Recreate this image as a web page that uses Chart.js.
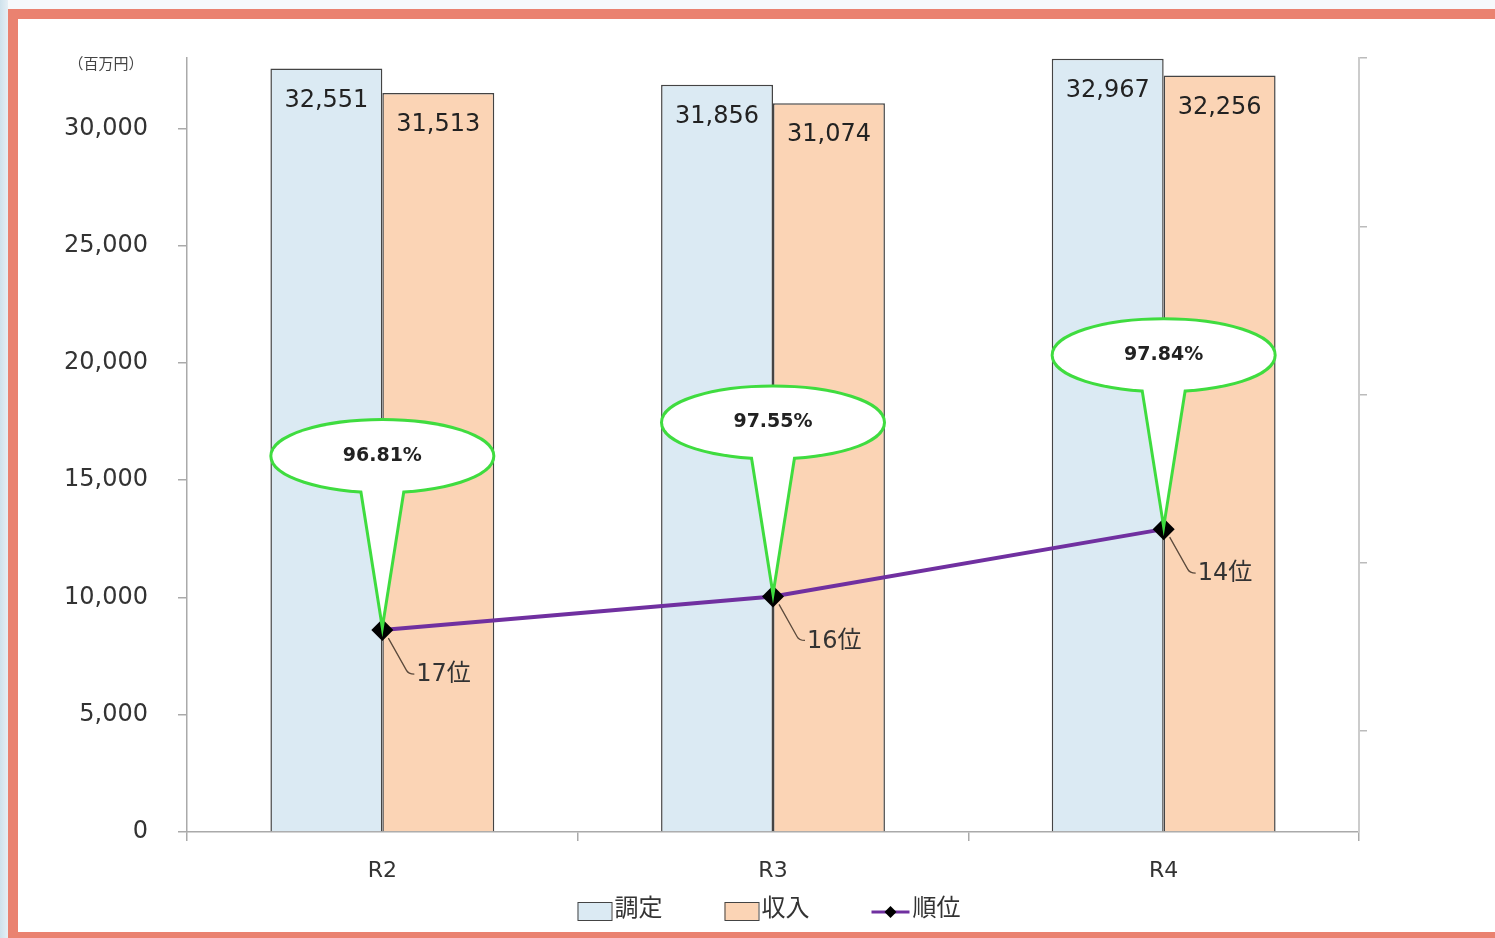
<!DOCTYPE html>
<html lang="ja">
<head>
<meta charset="utf-8">
<title>調定・収入・順位</title>
<script src="https://cdn.jsdelivr.net/npm/chart.js@4/dist/chart.umd.min.js"></script>
<style>
    html, body { margin: 0; padding: 0; }
    body {
        width: 1495px; height: 938px; overflow: hidden; position: relative;
        background: linear-gradient(90deg, #cfe2ec 0px, #e6eff5 8px, #f6f9fb 8px);
    }
    #frame {
        position: absolute; left: 8px; top: 9px; right: -20px; height: 929px;
        box-sizing: border-box; background: #fff;
        border-left: 10px solid #ea8270; border-top: 10px solid #ea8270; border-bottom: 6px solid #ea8270;
    }
    #chart { position: absolute; left: 0; top: 0; }
</style>
</head>
<body>
<div id="frame"></div>
<canvas id="chart" width="1495" height="938"></canvas>
<script>
const categories = ['R2', 'R3', 'R4'];
const assessed = [32551, 31856, 32967];   // 調定
const revenue = [31513, 31074, 32256];    // 収入
const ranks = [17, 16, 14];               // 順位
const rates = ['96.81%', '97.55%', '97.84%'];
const seriesNames = ['調定', '収入', '順位'];
const amountTicks = [0, 5000, 10000, 15000, 20000, 25000, 30000];
const rankTicks = [0, 5, 10, 15, 20];
const unitLabel = '（百万円）';

const FONT = "'DejaVu Sans', 'Noto Sans CJK JP', sans-serif";
const BLUE = '#dbeaf3';
const ORANGE = '#fbd4b5';
const PURPLE = '#7030a0';
const GREEN = '#3fdc3f';

Chart.defaults.font.family = FONT;
Chart.defaults.color = '#333';

// callouts, bar values, rank labels, unit label and legend
const annotations = {
    id: 'annotations',
    afterDatasetsDraw(chart) {
        const ctx = chart.ctx;

        // bar value labels
        ctx.save();
        ctx.font = `24px ${FONT}`;
        ctx.fillStyle = '#222';
        ctx.textAlign = 'center';
        ctx.textBaseline = 'middle';
        [0, 1].forEach(di => {
            const meta = chart.getDatasetMeta(di);
            meta.data.forEach((bar, i) => {
                const v = chart.data.datasets[di].data[i];
                ctx.fillText(v.toLocaleString('en-US'), bar.x, bar.y + 32);
            });
        });
        ctx.restore();

        const lineMeta = chart.getDatasetMeta(2);

        // rank labels with leader lines
        ctx.save();
        lineMeta.data.forEach((p, i) => {
            ctx.strokeStyle = '#5b4a3c';
            ctx.lineWidth = 1.3;
            ctx.beginPath();
            ctx.moveTo(p.x + 6, p.y + 8);
            ctx.lineTo(p.x + 24, p.y + 40);
            ctx.quadraticCurveTo(p.x + 26, p.y + 44, p.x + 32, p.y + 44);
            ctx.stroke();
            ctx.font = `24px ${FONT}`;
            ctx.fillStyle = '#333';
            ctx.textAlign = 'left';
            ctx.textBaseline = 'middle';
            ctx.fillText(ranks[i] + '位', p.x + 34, p.y + 45);
        });
        ctx.restore();

        // speech-bubble callouts with collection rate
        ctx.save();
        lineMeta.data.forEach((p, i) => {
            const cx = p.x, cy = p.y - 174, rx = 110, ry = 35;
            const tipY = p.y - 12;
            const tail = () => {
                ctx.beginPath();
                ctx.moveTo(cx - 21, cy + ry - 6);
                ctx.lineTo(cx, tipY);
                ctx.lineTo(cx + 21, cy + ry - 6);
                ctx.closePath();
            };
            const oval = () => {
                ctx.beginPath();
                ctx.ellipse(cx, cy, rx, ry, 0, 0, Math.PI * 2);
            };
            ctx.strokeStyle = GREEN;
            ctx.lineWidth = 6;
            oval(); ctx.stroke();
            tail(); ctx.stroke();
            ctx.fillStyle = '#fff';
            oval(); ctx.fill();
            tail(); ctx.fill();
            ctx.font = `bold 19px ${FONT}`;
            ctx.fillStyle = '#222';
            ctx.textAlign = 'center';
            ctx.textBaseline = 'middle';
            ctx.fillText(rates[i], cx, cy);
        });
        ctx.restore();
    },
    afterDraw(chart) {
        const ctx = chart.ctx;
        const area = chart.chartArea;

        // unit label
        ctx.save();
        ctx.font = `15px ${FONT}`;
        ctx.fillStyle = '#444';
        ctx.textAlign = 'center';
        ctx.textBaseline = 'middle';
        ctx.fillText(unitLabel, 106, 65);
        ctx.restore();

        // legend
        ctx.save();
        ctx.font = `24px ${FONT}`;
        ctx.textBaseline = 'middle';
        const y = 910;
        const gap = 62;
        const items = seriesNames.map((name, i) => {
            const sym = i < 2 ? 34 : 38;
            return { name, sym, w: sym + 3 + ctx.measureText(name).width };
        });
        const total = items.reduce((s, it) => s + it.w, 0) + gap * (items.length - 1);
        let x = (area.left + area.right) / 2 - total / 2 - 4;
        items.forEach((it, i) => {
            if (i < 2) {
                ctx.fillStyle = i === 0 ? BLUE : ORANGE;
                ctx.fillRect(x, y - 8, 34, 18);
                ctx.strokeStyle = '#444';
                ctx.lineWidth = 1;
                ctx.strokeRect(x + 0.5, y - 7.5, 34, 18);
            } else {
                ctx.strokeStyle = PURPLE;
                ctx.lineWidth = 3;
                ctx.beginPath();
                ctx.moveTo(x, y + 2);
                ctx.lineTo(x + 38, y + 2);
                ctx.stroke();
                ctx.fillStyle = '#000';
                ctx.beginPath();
                ctx.moveTo(x + 19, y - 4);
                ctx.lineTo(x + 25, y + 2);
                ctx.lineTo(x + 19, y + 8);
                ctx.lineTo(x + 13, y + 2);
                ctx.closePath();
                ctx.fill();
            }
            ctx.fillStyle = '#333';
            ctx.textAlign = 'left';
            ctx.fillText(it.name, x + it.sym + 3, y);
            x += it.w + gap;
        });
        ctx.restore();
    }
};

const chart = new Chart(document.getElementById('chart'), {
    type: 'bar',
    data: {
        labels: categories,
        datasets: [
            {
                label: seriesNames[0],
                data: assessed,
                backgroundColor: BLUE,
                borderColor: '#444',
                borderWidth: 1.5,
                barPercentage: 1,
                categoryPercentage: 0.573,
                order: 1
            },
            {
                label: seriesNames[1],
                data: revenue,
                backgroundColor: ORANGE,
                borderColor: '#444',
                borderWidth: 1.5,
                barPercentage: 1,
                categoryPercentage: 0.573,
                order: 1
            },
            {
                type: 'line',
                label: seriesNames[2],
                data: ranks,
                yAxisID: 'y1',
                borderColor: PURPLE,
                borderWidth: 4,
                pointStyle: 'rectRot',
                pointRadius: 11,
                pointBackgroundColor: '#000',
                pointBorderColor: '#000',
                pointBorderWidth: 0,
                order: 0
            }
        ]
    },
    options: {
        responsive: false,
        animation: false,
        devicePixelRatio: 1,
        layout: { padding: { left: 20, right: 20, top: 58, bottom: 50 } },
        plugins: {
            legend: { display: false },
            tooltip: { enabled: false }
        },
        scales: {
            x: {
                grid: { offset: true, drawOnChartArea: false, tickLength: 9, color: '#aaa', lineWidth: 1.5 },
                border: { color: '#aaa', width: 1.5 },
                ticks: { font: { size: 22 }, color: '#333', padding: 17 },
                afterFit(scale) { scale.height = 56; }
            },
            y: {
                min: 0,
                max: 33000,
                grid: { drawOnChartArea: false, tickLength: 9, color: '#aaa', lineWidth: 1.5 },
                border: { color: '#aaa', width: 1.5 },
                ticks: {
                    font: { size: 24 },
                    color: '#333',
                    padding: 30,
                    callback: v => v.toLocaleString('en-US')
                },
                afterBuildTicks(scale) { scale.ticks = amountTicks.map(v => ({ value: v })); },
                afterFit(scale) { scale.width = 167; }
            },
            y1: {
                position: 'right',
                reverse: true,
                min: 0,
                max: 23,
                grid: { drawOnChartArea: false, tickLength: 8, color: '#bbb', lineWidth: 1.5 },
                border: { color: '#ccc', width: 2 },
                ticks: { display: false },
                afterBuildTicks(scale) { scale.ticks = rankTicks.map(v => ({ value: v })); },
                afterFit(scale) { scale.width = 116; }
            }
        }
    },
    plugins: [annotations]
});
</script>
</body>
</html>
